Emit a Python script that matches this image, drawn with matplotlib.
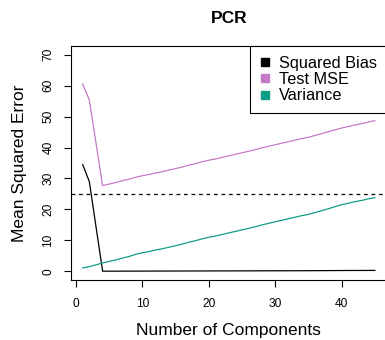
import matplotlib
matplotlib.use("Agg")
import matplotlib.pyplot as plt
from matplotlib.lines import Line2D

plt.rcParams['font.family'] = ['Liberation Sans', 'DejaVu Sans']

# number of components
n_comp = list(range(1, 46))

# squared bias
bias = [34.5, 29.0, 14.5, 0.05, 0.05, 0.06, 0.06, 0.07, 0.07, 0.08,
        0.08, 0.09, 0.09, 0.10, 0.10, 0.11, 0.11, 0.12, 0.12, 0.13,
        0.13, 0.14, 0.14, 0.15, 0.15, 0.16, 0.16, 0.17, 0.17, 0.18,
        0.18, 0.19, 0.19, 0.20, 0.21, 0.22, 0.23, 0.24, 0.25, 0.26,
        0.27, 0.28, 0.28, 0.29, 0.30]

# variance
variance = [1.1, 1.5, 2.1, 2.7, 3.2, 3.7, 4.3, 4.8, 5.5, 6.0,
            6.4, 6.9, 7.3, 7.8, 8.3, 8.8, 9.4, 9.9, 10.5, 11.0,
            11.4, 11.9, 12.4, 12.9, 13.4, 13.9, 14.4, 15.0, 15.5, 16.0,
            16.5, 17.0, 17.5, 18.0, 18.4, 19.0, 19.6, 20.2, 20.9, 21.5,
            22.0, 22.5, 22.9, 23.4, 23.8]

# test MSE
test_mse = [60.5, 55.4, 41.5, 27.7, 28.2, 28.7, 29.3, 29.8, 30.4, 30.9,
            31.3, 31.8, 32.2, 32.7, 33.2, 33.7, 34.3, 34.8, 35.4, 35.9,
            36.3, 36.8, 37.3, 37.8, 38.3, 38.8, 39.3, 39.9, 40.4, 40.9,
            41.4, 41.9, 42.4, 42.9, 43.3, 43.9, 44.5, 45.1, 45.7, 46.3,
            46.8, 47.3, 47.7, 48.2, 48.7]

irreducible = 25

labels = ["Squared Bias", "Test MSE", "Variance"]
colors = ["black", "#C37BC6", "#0F9D87"]

fig = plt.figure(figsize=(3.85, 3.4), dpi=100)
ax = fig.add_axes([71 / 385, 60 / 340, 315.5 / 385, 234 / 340])

ax.plot(n_comp, bias, color=colors[0], lw=0.9)
ax.plot(n_comp, test_mse, color=colors[1], lw=0.9)
ax.plot(n_comp, variance, color=colors[2], lw=0.9)
ax.axhline(irreducible, color="black", lw=0.9, ls=(0, (3, 3)))

ax.set_xlim(-0.76, 46.76)
ax.set_ylim(-2.8, 72.8)
ax.set_xticks([0, 10, 20, 30, 40])
ax.set_yticks([0, 10, 20, 30, 40, 50, 60, 70])
ax.tick_params(axis="x", length=5, width=0.8, pad=8, labelsize=8.6)
ax.tick_params(axis="y", length=5, width=0.8, pad=7, labelsize=8.6,
               labelrotation=90)
for t in ax.get_yticklabels():
    t.set_va("center")
for s in ax.spines.values():
    s.set_linewidth(0.8)

ax.set_xlabel("Number of Components", fontsize=12.5, va="baseline")
ax.xaxis.set_label_coords(0.5, (280 - 335.2) / 234)
ax.set_ylabel("Mean Squared Error", fontsize=12.5, va="baseline")
ax.yaxis.set_label_coords((24.2 - 71) / 315.5, 0.5)

fig.text(228.7 / 385, 1 - 22.7 / 340, "PCR", ha="center", va="baseline",
         fontsize=12.5, fontweight="bold")

handles = [Line2D([], [], marker="s", ls="none", markersize=5.8, color=c)
           for c in colors]
leg = ax.legend(handles, labels, loc="upper right", bbox_to_anchor=(1, 1),
                borderaxespad=0, fancybox=False, edgecolor="black",
                fontsize=11.7, handlelength=0.6, handletextpad=0.56,
                borderpad=0.6, labelspacing=0.08, framealpha=1)
leg.get_frame().set_linewidth(0.8)

fig.savefig("out.png", dpi=100)
